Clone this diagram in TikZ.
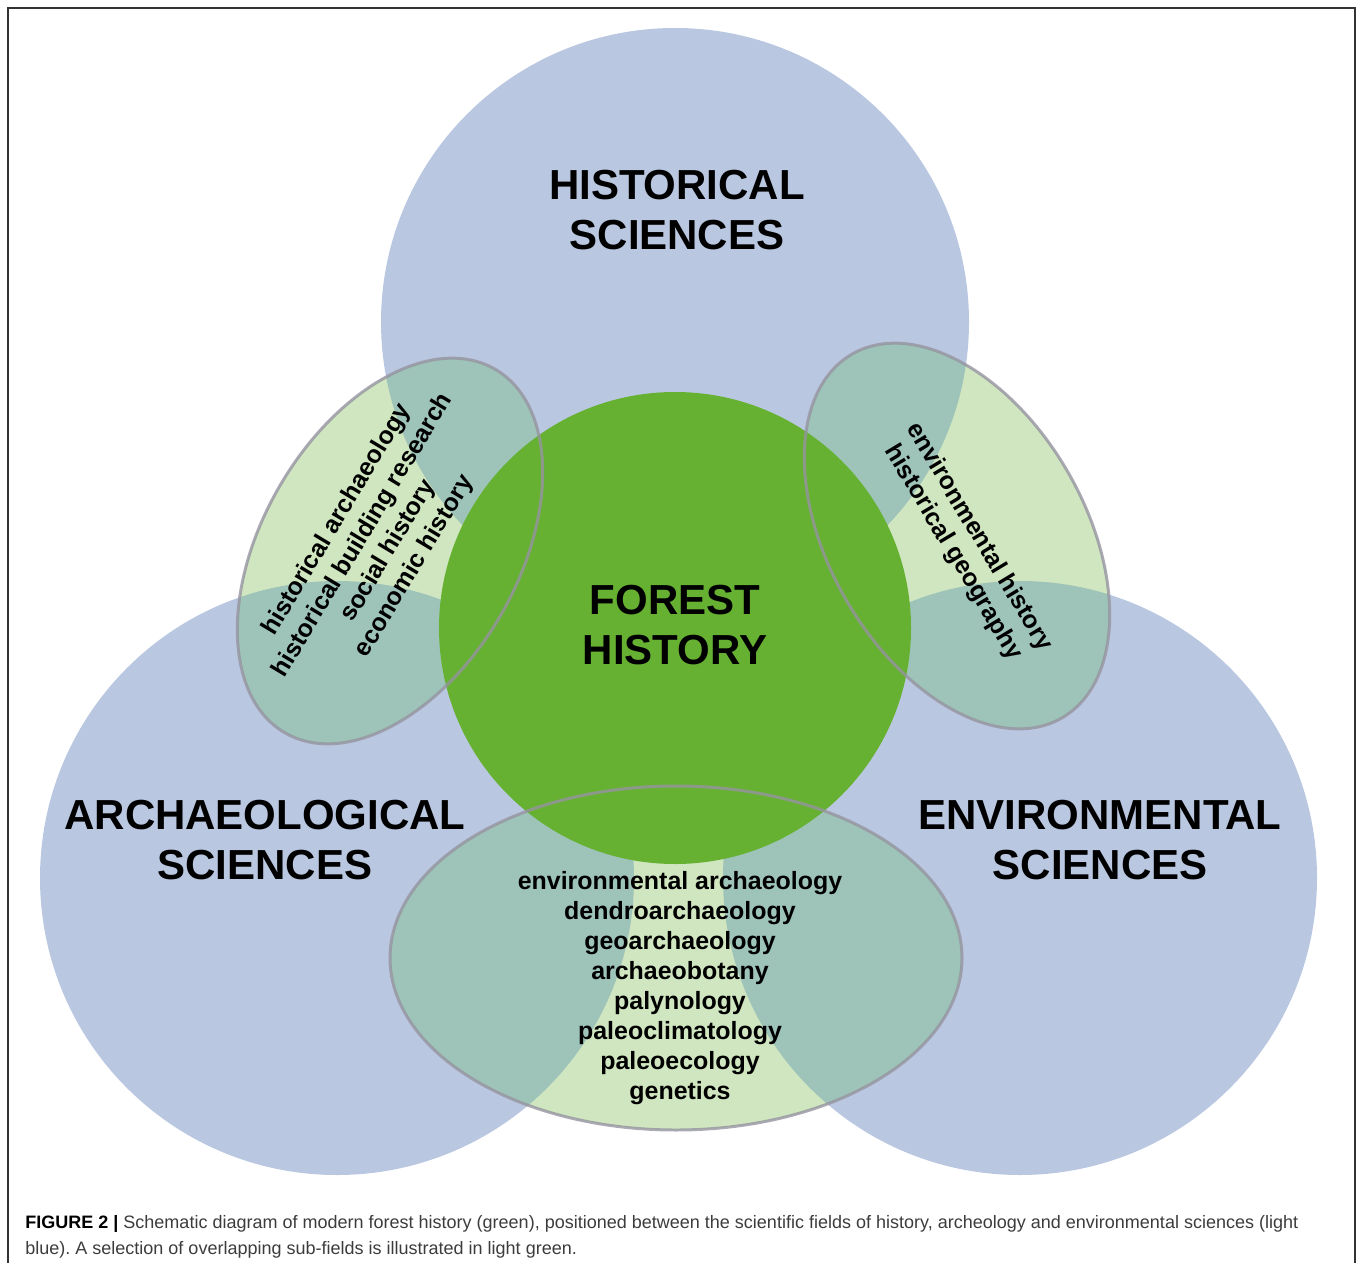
\documentclass[tikz,border=0pt]{standalone}
\usepackage{fontspec}
\setmainfont{Liberation Sans}
\frenchspacing

\definecolor{azul}{RGB}{186,199,225}
\definecolor{verde}{RGB}{102,177,50}
\definecolor{verdeclaro}{RGB}{208,230,192}
\definecolor{azulverde}{RGB}{158,195,185}
\definecolor{cinza}{RGB}{150,148,160}
\definecolor{textolegenda}{RGB}{60,60,60}

\tikzset{
	campo/.style={font=\fontsize{23.9}{28.5}\selectfont\bfseries, align=center, inner sep=0pt},
	subcampo/.style={font=\fontsize{14.2}{17.1}\selectfont\bfseries, align=center, inner sep=0pt},
	contorno/.style={draw=cinza, draw opacity=0.8, line width=1.7pt},
	legenda/.style={font=\fontsize{10.25}{14.8}\selectfont, text=textolegenda, inner sep=0pt, anchor=base west}
}

\begin{document}
\begin{tikzpicture}[x=0.02cm, y=-0.02cm]
			\useasboundingbox (0,0) rectangle (1358,1263);
			
			\coordinate (H) at (675,322);
			\coordinate (A) at (337,878);
			\coordinate (E) at (1020,878);
			\coordinate (F) at (675,628);
			\coordinate (L) at (390,551);
			\coordinate (R) at (957,536);
			\coordinate (B) at (676,958);
			
			%moldura
			\draw[gray!40!black, line width=0.9pt] (8,1263) -- (8,8) -- (1355,8) -- (1355,1263);
			
			%desenhando os tres circulos azuis
			\fill[azul] (H) circle (294);
			\fill[azul] (A) circle (297);
			\fill[azul] (E) circle (297);
			
			%desenhando as elipses
			\fill[verdeclaro, rotate around={60:(L)}] (L) ellipse [x radius=210, y radius=128];
			\fill[verdeclaro, rotate around={-60:(R)}] (R) ellipse [x radius=210, y radius=128];
			\fill[verdeclaro] (B) ellipse [x radius=286, y radius=172];
			
			%partes das elipses sobre os circulos azuis
			\begin{scope}
				\clip[rotate around={60:(L)}] (L) ellipse [x radius=210, y radius=128];
				\fill[azulverde] (H) circle (294) (A) circle (297);
			\end{scope}
			\begin{scope}
				\clip[rotate around={-60:(R)}] (R) ellipse [x radius=210, y radius=128];
				\fill[azulverde] (H) circle (294) (E) circle (297);
			\end{scope}
			\begin{scope}
				\clip (B) ellipse [x radius=286, y radius=172];
				\fill[azulverde] (A) circle (297) (E) circle (297);
			\end{scope}
			
			%circulo verde no centro
			\fill[verde] (F) circle (236);
			
			%contornos das elipses
			\draw[contorno, rotate around={60:(L)}] (L) ellipse [x radius=210, y radius=128];
			\draw[contorno, rotate around={-60:(R)}] (R) ellipse [x radius=210, y radius=128];
			\draw[contorno] (B) ellipse [x radius=286, y radius=172];
			
			%nomes dos campos
			\node[campo] (hist) at (677,210) {HISTORICAL\\SCIENCES};
			\node[campo] (arq) at (265,840) {ARCHAEOLOGICAL\\SCIENCES};
			\node[campo] (amb) at (1100,840) {ENVIRONMENTAL\\SCIENCES};
			\node[campo] (floresta) at (675,625) {FOREST\\HISTORY};
			
			%subcampos
			\node[subcampo, rotate=59] (subL) at (376,543) {historical archaeology\\historical building research\\social history\\economic history};
			\node[subcampo, rotate=-59] (subR) at (966,545) {environmental history\\historical geography};
			\node[subcampo] (subB) at (680,988) {environmental archaeology\\dendroarchaeology\\geoarchaeology\\archaeobotany\\palynology\\paleoclimatology\\paleoecology\\genetics};
			
			%legenda
			\node[legenda] (leg1) at (25,1228) {\textbf{\color{black}FIGURE 2 |} Schematic diagram of modern forest history (green), positioned between the scientific fields of history, archeology and environmental sciences (light};
			\node[legenda] (leg2) at (25,1254) {blue). A selection of overlapping sub-fields is illustrated in light green.};
		\end{tikzpicture}
\end{document}
